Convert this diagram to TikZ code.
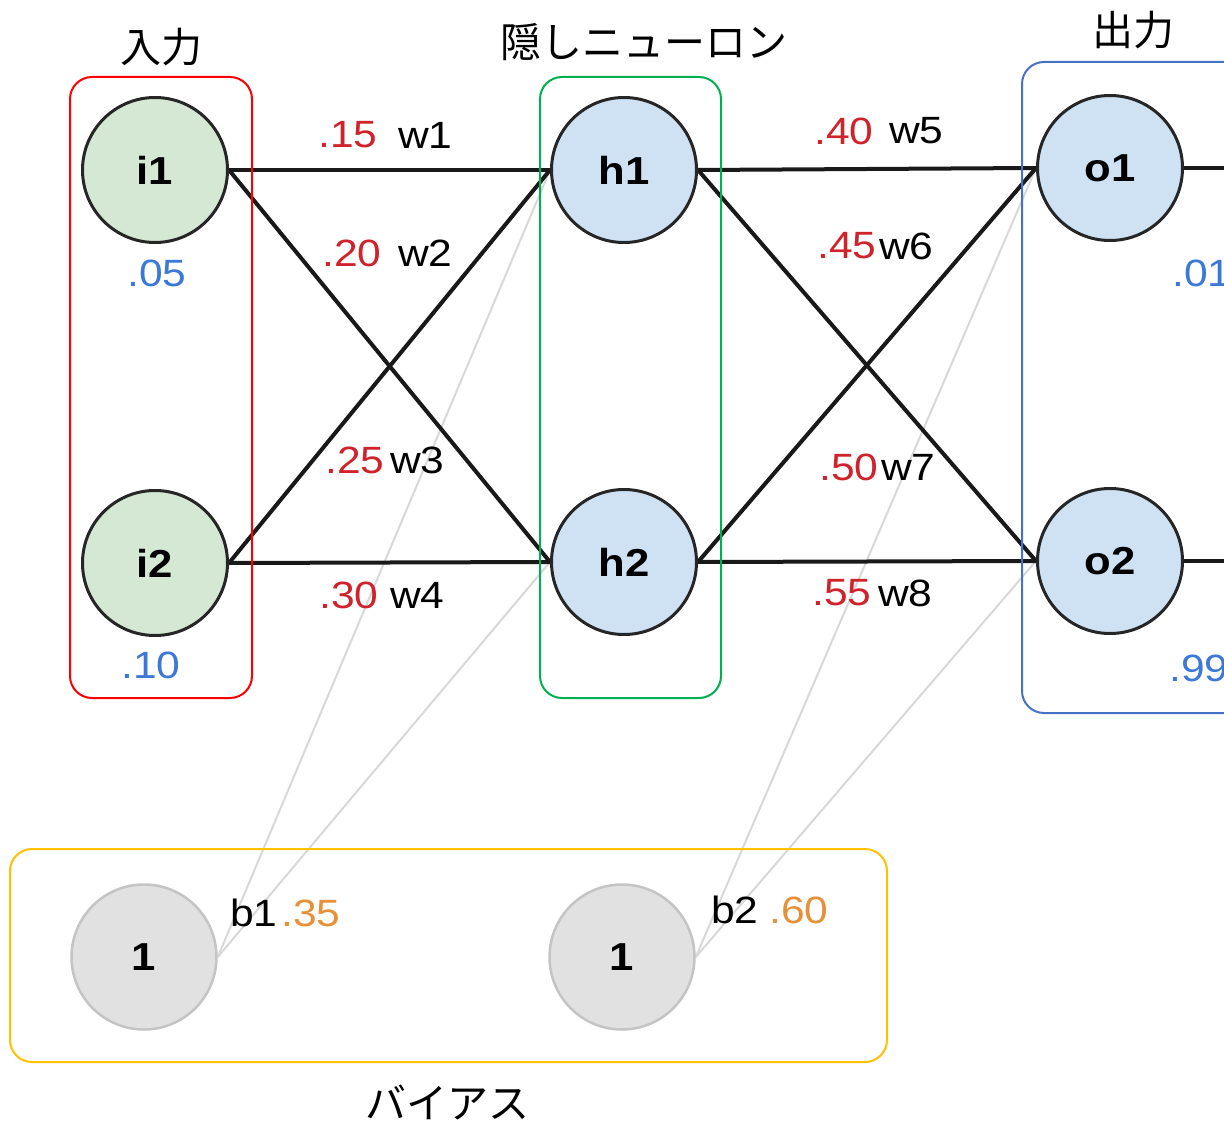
\documentclass[tikz,border=0pt]{standalone}
\usepackage{fontspec}
\setmainfont{Liberation Sans}
\newfontfamily\widefont[FakeStretch=1.12]{Liberation Sans}
\newfontfamily\jpfont{Noto Sans CJK JP}
\usetikzlibrary{backgrounds}
\definecolor{ingreen}{HTML}{D5E8D4}
\definecolor{nblue}{HTML}{CFE2F3}
\definecolor{bgray}{HTML}{E1E1E1}
\definecolor{bborder}{HTML}{C4C4C4}
\definecolor{wred}{HTML}{D0222B}
\definecolor{vblue}{HTML}{3C78D8}
\definecolor{borange}{HTML}{E69138}
\definecolor{boxred}{HTML}{FF0000}
\definecolor{boxgreen}{HTML}{00B050}
\definecolor{boxblue}{HTML}{4472C4}
\definecolor{boxyellow}{HTML}{FFC000}
\definecolor{biasline}{HTML}{D8D8D8}
\begin{document}
\begin{tikzpicture}[x=1pt,y=-1pt,
  neuron/.style={circle,draw=black!85,line width=3pt,minimum size=145pt,inner sep=0pt,font=\widefont\fontsize{39}{40}\selectfont\bfseries},
  innode/.style={neuron,fill=ingreen},
  hnode/.style={neuron,fill=nblue},
  biasnode/.style={neuron,fill=bgray,draw=bborder,line width=2.5pt},
  wedge/.style={line width=4pt,black!90},
  bedge/.style={line width=2pt,biasline},
  grp/.style={rounded corners=22pt,line width=2pt},
  lbl/.style={font=\widefont\fontsize{38}{40}\selectfont,inner sep=0pt,anchor=west},
  num/.style={lbl,text=wred},
  title/.style={font=\jpfont\fontsize{41}{44}\selectfont,inner sep=0pt}
]
\useasboundingbox (0,0) rectangle (1224,1123);
\coordinate (out1) at (1230,168);
\coordinate (out2) at (1230,561);
% nodes
\node[innode] (i1) at (155,170) {i1};
\node[innode] (i2) at (155,563) {i2};
\node[hnode] (h1) at (624,170) {h1};
\node[hnode] (h2) at (624,562) {h2};
\node[hnode] (o1) at (1110,168) {o1};
\node[hnode] (o2) at (1110,561) {o2};
\node[biasnode] (b1) at (144,957) {1};
\node[biasnode] (b2) at (622,957) {1};
% edges behind nodes
\begin{scope}[on background layer]
\draw[bedge] (b1.east) -- (h1.west);
\draw[bedge] (b1.east) -- (h2.west);
\draw[bedge] (b2.east) -- (o1.west);
\draw[bedge] (b2.east) -- (o2.west);
\draw[wedge] (i1.east) -- (h1.west);
\draw[wedge] (i1.east) -- (h2.west);
\draw[wedge] (i2.east) -- (h1.west);
\draw[wedge] (i2.east) -- (h2.west);
\draw[wedge] (h1.east) -- (o1.west);
\draw[wedge] (h1.east) -- (o2.west);
\draw[wedge] (h2.east) -- (o1.west);
\draw[wedge] (h2.east) -- (o2.west);
\draw[wedge] (o1.east) -- (out1);
\draw[wedge] (o2.east) -- (out2);
\end{scope}
% group boxes
\draw[grp,boxred] (70,77) rectangle (252,698);
\draw[grp,boxgreen] (540,77) rectangle (721,698);
\draw[grp,boxblue] (1022,62) rectangle (1250,713);
\draw[grp,boxyellow] (10,849) rectangle (887,1062);
% titles
\node[title] (t1) at (161,47) {入力};
\node[title] (t2) at (644,42) {隠しニューロン};
\node[title] (t3) at (1133,30) {出力};
\node[title] (t4) at (447,1102) {バイアス};
% input/output values
\node[lbl,text=vblue] (v1) at (127,273) {.05};
\node[lbl,text=vblue] (v2) at (121,665) {.10};
\node[lbl,text=vblue] (v3) at (1172,273) {.01};
\node[lbl,text=vblue] (v4) at (1169,668) {.99};
% weights
\node[num] (n1) at (318,135) {.15};  \node[lbl] (w1) at (398,135) {w1};
\node[num] (n2) at (322,253) {.20};  \node[lbl] (w2) at (398,253) {w2};
\node[num] (n3) at (325,460) {.25};  \node[lbl] (w3) at (390,460) {w3};
\node[num] (n4) at (319,595) {.30};  \node[lbl] (w4) at (390,595) {w4};
\node[num] (n5) at (814,131) {.40};  \node[lbl] (w5) at (889,131) {w5};
\node[num] (n6) at (817,246) {.45};  \node[lbl] (w6) at (879,246) {w6};
\node[num] (n7) at (819,467) {.50};  \node[lbl] (w7) at (881,467) {w7};
\node[num] (n8) at (812,593) {.55};  \node[lbl] (w8) at (878,593) {w8};
% bias labels
\node[lbl] (bl1) at (230,913) {b1};  \node[lbl,text=borange] (bv1) at (281,913) {.35};
\node[lbl] (bl2) at (711,910) {b2};  \node[lbl,text=borange] (bv2) at (769,910) {.60};
\end{tikzpicture}
\end{document}
